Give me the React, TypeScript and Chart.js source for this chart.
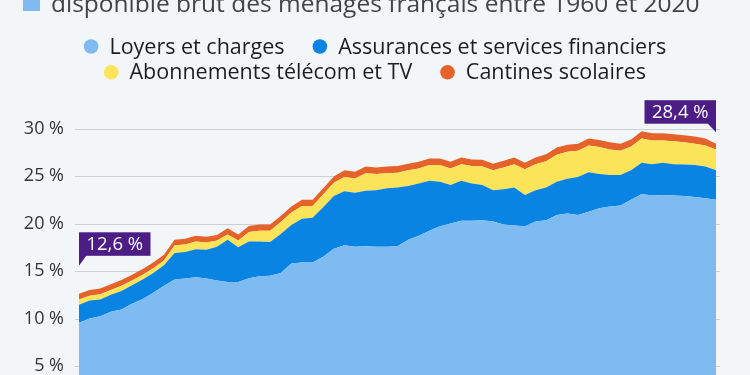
import React, { useEffect, useRef } from "react";
import { Chart, registerables } from "chart.js";

Chart.register(...registerables);

const years = [
  1960, 1961, 1962, 1963, 1964, 1965, 1966, 1967, 1968, 1969,
  1970, 1971, 1972, 1973, 1974, 1975, 1976, 1977, 1978, 1979,
  1980, 1981, 1982, 1983, 1984, 1985, 1986, 1987, 1988, 1989,
  1990, 1991, 1992, 1993, 1994, 1995, 1996, 1997, 1998, 1999,
  2000, 2001, 2002, 2003, 2004, 2005, 2006, 2007, 2008, 2009,
  2010, 2011, 2012, 2013, 2014, 2015, 2016, 2017, 2018, 2019,
  2020,
];

const loyers = [
  9.55, 10.0, 10.25, 10.7, 10.95, 11.55, 12.05, 12.7, 13.45, 14.1,
  14.2, 14.35, 14.2, 14.0, 13.85, 13.85, 14.25, 14.45, 14.5, 14.8,
  15.8, 15.9, 15.9, 16.5, 17.35, 17.7, 17.55, 17.6, 17.55, 17.55,
  17.6, 18.3, 18.7, 19.25, 19.7, 20.0, 20.3, 20.3, 20.35, 20.2,
  19.9, 19.8, 19.7, 20.2, 20.35, 20.9, 21.05, 20.9, 21.25, 21.6,
  21.8, 21.9, 22.5, 23.1, 22.95, 23.0, 22.95, 22.9, 22.8, 22.65,
  22.5,
];

const assurances = [
  1.9, 1.9, 1.75, 1.8, 1.95, 1.95, 2.05, 2.1, 2.15, 2.8,
  2.8, 2.95, 3.05, 3.55, 4.45, 3.65, 3.85, 3.65, 3.55, 4.1,
  4.05, 4.6, 4.7, 5.2, 5.55, 5.7, 5.7, 5.85, 5.95, 6.15,
  6.2, 5.65, 5.5, 5.25, 4.7, 4.05, 4.2, 3.9, 3.7, 3.3,
  3.7, 4.0, 3.3, 3.3, 3.45, 3.5, 3.65, 4.0, 4.15, 3.6,
  3.3, 3.2, 3.1, 3.3, 3.3, 3.4, 3.3, 3.3, 3.35, 3.35,
  3.1,
];

const telecom = [
  0.55, 0.5, 0.55, 0.5, 0.55, 0.5, 0.5, 0.5, 0.5, 0.8,
  0.8, 0.8, 0.75, 0.65, 0.55, 0.7, 1.0, 1.15, 1.2, 1.25,
  1.3, 1.35, 1.25, 1.35, 1.4, 1.5, 1.5, 1.85, 1.7, 1.6,
  1.55, 1.65, 1.6, 1.65, 1.75, 1.75, 1.75, 1.85, 1.95, 2.1,
  2.3, 2.45, 2.7, 2.75, 2.75, 2.85, 2.85, 2.75, 2.8, 2.85,
  2.7, 2.55, 2.5, 2.55, 2.5, 2.35, 2.4, 2.35, 2.25, 2.2,
  2.2,
];

const cantines = [
  0.6, 0.6, 0.6, 0.6, 0.6, 0.6, 0.6, 0.6, 0.6, 0.6,
  0.6, 0.6, 0.6, 0.6, 0.65, 0.65, 0.65, 0.65, 0.65, 0.65,
  0.65, 0.65, 0.65, 0.65, 0.65, 0.7, 0.7, 0.7, 0.7, 0.7,
  0.7, 0.7, 0.7, 0.7, 0.7, 0.7, 0.7, 0.7, 0.7, 0.7,
  0.7, 0.7, 0.7, 0.7, 0.75, 0.75, 0.75, 0.75, 0.75, 0.75,
  0.75, 0.75, 0.75, 0.75, 0.75, 0.75, 0.75, 0.75, 0.75, 0.75,
  0.6,
];

const seriesNames = [
  "Loyers et charges",
  "Assurances et services financiers",
  "Abonnements télécom et TV",
  "Cantines scolaires",
];
const seriesValues = [loyers, assurances, telecom, cantines];
const seriesColors = ["#7dbbf0", "#0a84e2", "#fbe35a", "#e5622a"];

const yTickValues = [0, 5, 10, 15, 20, 25, 30];
const titleText = "disponible brut des ménages français entre 1960 et 2020";
const calloutYears = [1960, 2020];

const BG = "#f3f6f9";
const FONT = "'Open Sans', 'Noto Sans', sans-serif";

function fmtPct(v: number): string {
  return v.toFixed(1).replace(".", ",") + " %";
}

const decorPlugin = {
  id: "decor",
  beforeDatasetsDraw(chart: any) {
    const { ctx, chartArea } = chart;
    const y = chart.scales.y;
    ctx.save();
    ctx.strokeStyle = "#cdd1d6";
    ctx.lineWidth = 1;
    yTickValues.forEach((v) => {
      const py = Math.round(y.getPixelForValue(v)) + 0.5;
      ctx.beginPath();
      ctx.moveTo(chartArea.left - 4, py);
      ctx.lineTo(chartArea.right + 4, py);
      ctx.stroke();
    });
    ctx.restore();
  },
  afterDatasetsDraw(chart: any) {
    const { ctx } = chart;
    const topMeta = chart.getDatasetMeta(seriesValues.length - 1);
    ctx.save();
    ctx.font = `18.5px ${FONT}`;
    calloutYears.forEach((yr) => {
      const i = years.indexOf(yr);
      const pt = topMeta.data[i];
      const total = seriesValues.reduce((s, arr) => s + arr[i], 0);
      const text = fmtPct(total);
      const w = 71.5;
      const h = 23.5;
      const first = i === 0;
      const bottom = first ? pt.y - 38 : pt.y - 20;
      const left = first ? pt.x : pt.x - w;
      ctx.fillStyle = "#4b1d85";
      ctx.fillRect(left, bottom - h, w, h);
      ctx.beginPath();
      if (first) {
        ctx.moveTo(pt.x, bottom - 1);
        ctx.lineTo(pt.x + 8, bottom - 1);
        ctx.lineTo(pt.x, bottom + 10);
      } else {
        ctx.moveTo(pt.x - 9, bottom - 1);
        ctx.lineTo(pt.x, bottom - 1);
        ctx.lineTo(pt.x, bottom + 8.5);
      }
      ctx.closePath();
      ctx.fill();
      ctx.fillStyle = "#ffffff";
      ctx.textAlign = "center";
      ctx.textBaseline = "middle";
      ctx.fillText(text, left + w / 2, bottom - h / 2 + 0.5);
    });
    ctx.restore();
  },
  afterDraw(chart: any) {
    const { ctx } = chart;
    ctx.save();
    // title (cropped at top)
    ctx.fillStyle = "#7dbbf0";
    ctx.fillRect(23, -6, 17, 17);
    ctx.fillStyle = "#444444";
    ctx.font = `24.5px ${FONT}`;
    ctx.textAlign = "left";
    ctx.textBaseline = "alphabetic";
    ctx.fillText(titleText, 51, 11.5);

    // legend
    ctx.font = `21.5px ${FONT}`;
    const dot = 14.6;
    const gapText = 11;
    const gapItem = 28;
    const maxW = 700;
    const items = seriesNames.map((name, k) => ({
      name,
      color: seriesColors[k],
      w: dot + gapText + ctx.measureText(name).width,
    }));
    const rows: any[][] = [];
    let cur: any[] = [];
    let curW = 0;
    items.forEach((it) => {
      const add = cur.length ? gapItem + it.w : it.w;
      if (cur.length && curW + add > maxW) {
        rows.push(cur);
        cur = [it];
        curW = it.w;
      } else {
        cur.push(it);
        curW += add;
      }
    });
    if (cur.length) rows.push(cur);
    const rowYs = [46.5, 72.3];
    rows.forEach((row, r) => {
      const total = row.reduce((s, it, j) => s + it.w + (j ? gapItem : 0), 0);
      let x = chart.width / 2 - total / 2;
      const cy = rowYs[r] ?? 46.5 + r * 26;
      row.forEach((it) => {
        ctx.fillStyle = it.color;
        ctx.beginPath();
        ctx.arc(x + dot / 2, cy, dot / 2, 0, Math.PI * 2);
        ctx.fill();
        ctx.fillStyle = "#1e1e1e";
        ctx.textBaseline = "middle";
        ctx.fillText(it.name, x + dot + gapText, cy + 1);
        x += it.w + gapItem;
      });
    });
    ctx.restore();
  },
};

export default function App() {
  const ref = useRef<HTMLCanvasElement>(null);
  useEffect(() => {
    document.body.style.margin = "0";
    document.body.style.background = BG;
    const chart = new Chart(ref.current as HTMLCanvasElement, {
      type: "line",
      data: {
        labels: years.map(String),
        datasets: seriesValues.map((vals, k) => ({
          label: seriesNames[k],
          data: vals,
          backgroundColor: seriesColors[k],
          borderColor: "rgba(0,0,0,0)",
          borderWidth: 0,
          pointRadius: 0,
          tension: 0,
          fill: k === 0 ? "origin" : "-1",
        })),
      },
      options: {
        responsive: false,
        devicePixelRatio: 1,
        animation: false,
        layout: { padding: { top: 128.5, right: 34, bottom: 26.5, left: 0 } },
        plugins: {
          legend: { display: false },
          title: { display: false },
          tooltip: { enabled: false },
        },
        scales: {
          x: { display: false, offset: false },
          y: {
            stacked: true,
            min: 0,
            max: 30,
            afterFit: (s: any) => {
              s.width = 79;
            },
            grid: { display: false, drawTicks: false },
            border: { display: false },
            ticks: {
              stepSize: 5,
              padding: 15,
              color: "#333333",
              font: { family: FONT, size: 18 },
              callback: (v: any) => `${v} %`,
            },
          },
        },
      },
      plugins: [decorPlugin],
    } as any);
    return () => chart.destroy();
  }, []);
  return (
    <div
      style={{
        position: "absolute",
        left: 0,
        top: 0,
        width: 750,
        height: 440,
        background: BG,
        overflow: "hidden",
      }}
    >
      <canvas ref={ref} width={750} height={440} style={{ display: "block", width: 750, height: 440 }} />
    </div>
  );
}
